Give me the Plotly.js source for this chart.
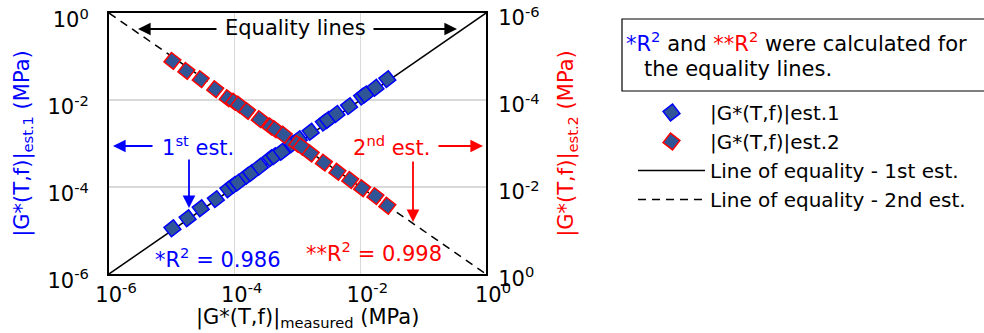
<!DOCTYPE html>
<html><head><meta charset="utf-8">
<script src="https://cdn.plot.ly/plotly-3.0.1.min.js"></script>
<style>html,body{margin:0;padding:0;background:#fff}</style>
</head><body><div id="chart" style="width:984px;height:333px"></div>
<script>
// |G*(T,f)| measured vs estimated (MPa)
const measured1 = [1.02e-5,1.78e-5,2.88e-5,5.01e-5,7.94e-5,9.77e-5,1.12e-4,1.58e-4,1.82e-4,2.51e-4,3.72e-4,4.27e-4,5.62e-4,8.22e-4,1.05e-3,1.62e-3,2.63e-3,3.02e-3,4.17e-3,6.61e-3,1.07e-2,1.20e-2,1.74e-2,2.69e-2];
const est1      = [1.12e-5,1.91e-5,3.24e-5,5.25e-5,8.91e-5,1.12e-4,1.26e-4,1.82e-4,2.09e-4,2.95e-4,4.57e-4,5.13e-4,6.46e-4,9.77e-4,1.26e-3,1.86e-3,3.02e-3,3.47e-3,4.79e-3,7.24e-3,1.20e-2,1.35e-2,1.91e-2,3.02e-2];
const measured2 = [1.02e-5,1.70e-5,2.88e-5,4.90e-5,7.76e-5,9.77e-5,1.17e-4,1.58e-4,2.51e-4,3.72e-4,4.37e-4,6.03e-4,9.89e-4,1.15e-3,1.62e-3,2.63e-3,4.32e-3,6.92e-3,1.07e-2,1.74e-2,2.69e-2];
const est2      = [1.26e-5,2.14e-5,3.31e-5,5.62e-5,9.12e-5,1.10e-4,1.29e-4,1.78e-4,2.75e-4,4.07e-4,4.68e-4,6.31e-4,1.02e-3,1.17e-3,1.70e-3,2.75e-3,4.47e-3,6.92e-3,1.07e-2,1.62e-2,2.69e-2];
const equalityX = [1e-6, 1];
const equalityY = [1e-6, 1];
const tickVals = [1e-6, 1e-4, 1e-2, 1];
const tickText = ['10<sup>-6</sup>', '10<sup>-4</sup>', '10<sup>-2</sup>', '10<sup>0</sup>'];
const seriesNames = ['|G*(T,f)|est.1', '|G*(T,f)|est.2', 'Line of equality - 1st est.', 'Line of equality - 2nd est.'];

const FONT = 'Verdana, "DejaVu Sans", sans-serif';
const FS = 21;
const BLUE = '#0000FF', RED = '#FF0000', FILL = '#2F5597';
const L = 109, T = 13, W = 377, H = 261;
const px = x => (x - L) / W;
const py = y => (T + H - y) / H;

const traces = [
  {x: equalityX, y: equalityY, yaxis: 'y', mode: 'lines', name: seriesNames[2], legendrank: 3,
   line: {color: '#000', width: 1.5}},
  {x: measured1, y: est1, yaxis: 'y', mode: 'markers', name: seriesNames[0], legendrank: 1,
   marker: {symbol: 'square', size: 12, angle: -38, color: FILL, line: {color: BLUE, width: 1.5}}},
  {x: equalityX, y: equalityY, yaxis: 'y2', mode: 'lines', name: seriesNames[3], legendrank: 4,
   line: {color: '#000', width: 1.5, dash: '8px,6px'}},
  {x: measured2, y: est2, yaxis: 'y2', mode: 'markers', name: seriesNames[1], legendrank: 2,
   marker: {symbol: 'square', size: 12, angle: 38, color: FILL, line: {color: RED, width: 1.5}}}
];

const axisCommon = {
  type: 'log', tickvals: tickVals, ticktext: tickText, ticks: '',
  showline: true, linecolor: '#000', linewidth: 2, zeroline: false,
  tickfont: {family: FONT, size: FS, color: '#000'}
};

function arrow(x, y, ax, ay, color) {
  return {xref: 'paper', yref: 'paper', x: px(x), y: py(y), ax: ax, ay: ay, axref: 'pixel', ayref: 'pixel',
          text: '', showarrow: true, arrowhead: 2, arrowsize: 1.4, arrowwidth: 1.8, arrowcolor: color};
}
function label(x, y, text, color, anchor) {
  return {xref: 'paper', yref: 'paper', x: px(x), y: py(y), text: text, showarrow: false,
          xanchor: anchor || 'center', yanchor: 'middle', font: {family: FONT, size: FS, color: color}};
}

const layout = {
  width: 984, height: 333,
  margin: {l: L, r: 984 - L - W, t: T, b: 333 - T - H},
  paper_bgcolor: '#fff', plot_bgcolor: '#fff',
  font: {family: FONT, size: FS, color: '#000'},
  xaxis: Object.assign({}, axisCommon, {range: [-6.001, 0.001], mirror: true, showgrid: true, gridcolor: '#d9d9d9', gridwidth: 1.5,
    ticklabelshift: 7, ticklabelstandoff: 1}),
  yaxis: Object.assign({}, axisCommon, {range: [-6.001, 0.001], showgrid: true, gridcolor: '#d9d9d9', gridwidth: 1.5,
    ticklabelshift: 7, ticklabelstandoff: 14,
    title: {text: '|G*(T,f)|<sub>est.1</sub> (MPa)', font: {family: FONT, size: FS, color: BLUE}, standoff: 12}}),
  yaxis2: Object.assign({}, axisCommon, {range: [0.001, -6.001], overlaying: 'y', side: 'right', showgrid: false,
    ticklabelshift: -5, ticklabelstandoff: 6,
    title: {text: '|G*(T,f)|<sub>est.2</sub> (MPa)', font: {family: FONT, size: FS, color: RED}, standoff: 20}}),
  showlegend: true,
  legend: {x: px(633), y: py(93), xanchor: 'left', yanchor: 'top', itemwidth: 67,
           font: {family: FONT, size: 20, color: '#000'}, bgcolor: 'rgba(0,0,0,0)', borderwidth: 0},
  shapes: [
    {type: 'rect', xref: 'paper', yref: 'paper', x0: px(622), x1: px(995), y0: py(91), y1: py(19),
     line: {color: '#000', width: 1.2}, fillcolor: 'rgba(0,0,0,0)'}
  ],
  annotations: [
    label(307, 318.5, '|G*(T,f)|<sub>measured</sub> (MPa)', '#000'),
    label(295, 28, 'Equality lines', '#000'),
    arrow(138, 29, 80, 0, '#000'),
    arrow(457, 29, -85, 0, '#000'),
    label(198, 146, '1<sup>st</sup> est.', BLUE),
    arrow(113, 146, 41, 0, BLUE),
    arrow(189, 208, 0, -50, BLUE),
    label(391, 146, '2<sup>nd</sup> est.', RED),
    arrow(483, 146, -46, 0, RED),
    arrow(413, 222, 0, -62, RED),
    label(218, 258, '*R<sup>2</sup> = 0.986', BLUE),
    label(374, 252, '**R<sup>2</sup> = 0.998', RED),
    label(624, 42, '<span style="color:#0000FF">*R<sup>2</sup></span> and <span style="color:#FF0000">**R<sup>2</sup></span> were calculated for', '#000', 'left'),
    label(642, 69, 'the equality lines.', '#000', 'left')
  ]
};

Plotly.newPlot('chart', traces, layout, {displayModeBar: false, staticPlot: true});
</script></body></html>
